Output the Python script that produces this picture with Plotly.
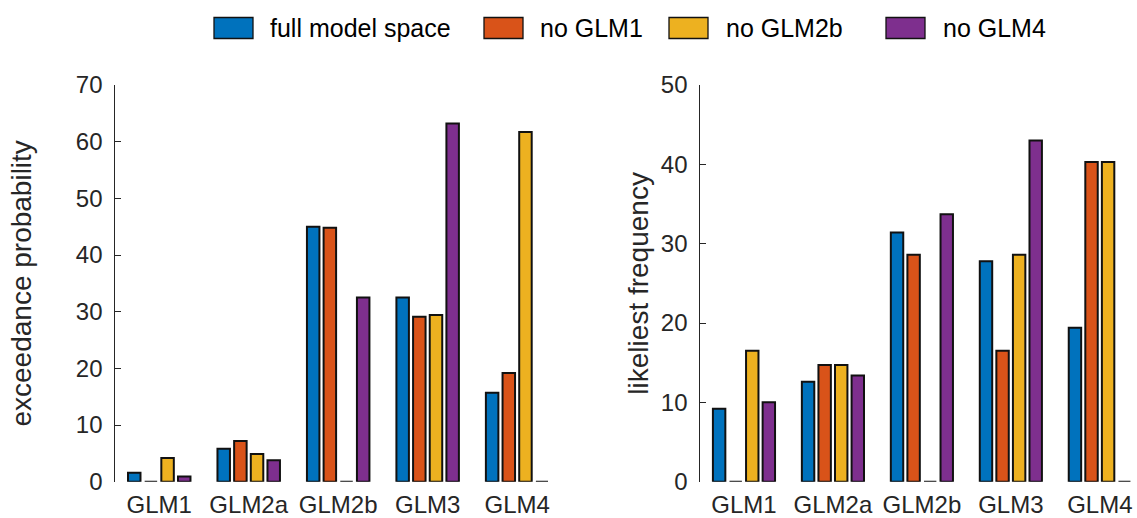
import plotly.graph_objects as go

categories = ["GLM1", "GLM2a", "GLM2b", "GLM3", "GLM4"]
series_names = ["full model space", "no GLM1", "no GLM2b", "no GLM4"]
series_colors = ["#0072BD", "#D95319", "#EDB120", "#7E2F8E"]

# exceedance probability (left panel)
exc_full = [1.6, 5.8, 45.0, 32.5, 15.7]
exc_noGLM1 = [0.0, 7.2, 44.8, 29.1, 19.2]
exc_noGLM2b = [4.2, 4.9, 0.0, 29.4, 61.7]
exc_noGLM4 = [0.9, 3.8, 32.5, 63.2, 0.0]

# likeliest frequency (right panel)
freq_full = [9.2, 12.6, 31.4, 27.8, 19.4]
freq_noGLM1 = [0.0, 14.7, 28.6, 16.5, 40.3]
freq_noGLM2b = [16.5, 14.7, 0.0, 28.6, 40.3]
freq_noGLM4 = [10.0, 13.4, 33.7, 43.0, 0.0]

left_tick_vals = [0, 10, 20, 30, 40, 50, 60, 70]
right_tick_vals = [0, 10, 20, 30, 40, 50]

FONT = "Liberation Sans, Arial, sans-serif"
TXT = "#262626"
W, H = 1137, 518

fig = go.Figure()
left_data = [exc_full, exc_noGLM1, exc_noGLM2b, exc_noGLM4]
right_data = [freq_full, freq_noGLM1, freq_noGLM2b, freq_noGLM4]
for name, col, vals in zip(series_names, series_colors, left_data):
    fig.add_trace(go.Bar(x=categories, y=vals, name=name, marker=dict(color=col, line=dict(color="#111111", width=2)),
                         xaxis="x", yaxis="y", showlegend=False, cliponaxis=False, offsetgroup=name))
for name, col, vals in zip(series_names, series_colors, right_data):
    fig.add_trace(go.Bar(x=categories, y=vals, name=name, marker=dict(color=col, line=dict(color="#111111", width=2)),
                         xaxis="x2", yaxis="y2", showlegend=False, cliponaxis=False, offsetgroup=name))

ydom = [1 - 481.7 / H, 1 - 85 / H]
xr = [-0.5, 4.345]
common_x = dict(type="category", range=xr, showline=False, showgrid=False, zeroline=False, ticks="",
                tickfont=dict(family=FONT, size=24, color=TXT), ticklabelstandoff=6, fixedrange=True,
                automargin=False)
common_y = dict(showline=True, linecolor=TXT, linewidth=1.3, ticks="inside", ticklen=6, tickcolor=TXT,
                tickwidth=1.3, showgrid=False, zeroline=False, tickfont=dict(family=FONT, size=24, color=TXT),
                ticklabelstandoff=6, title_font=dict(family=FONT, size=28, color=TXT), automargin=False)

fig.update_layout(
    width=W, height=H,
    margin=dict(l=0, r=0, t=0, b=0, autoexpand=False),
    paper_bgcolor="white", plot_bgcolor="white",
    barmode="group", bargap=0.255, bargroupgap=0.25,
    xaxis=dict(domain=[114.5 / W, 548 / W], anchor="y", **common_x),
    xaxis2=dict(domain=[699.5 / W, 1130.5 / W], anchor="y2", **common_x),
    yaxis=dict(domain=ydom, anchor="x", range=[0, 70], tickvals=left_tick_vals,
               title=dict(text="exceedance probability", standoff=36), **common_y),
    yaxis2=dict(domain=ydom, anchor="x2", range=[0, 50], tickvals=right_tick_vals,
                title=dict(text="likeliest frequency", standoff=4), **common_y),
)

# legend drawn manually (large swatches like the original)
sw_x = [214, 484, 669, 886]
txt_x = [268, 538, 724, 941]
for sx, tx, name, col in zip(sw_x, txt_x, series_names, series_colors):
    fig.add_shape(type="rect", xref="paper", yref="paper",
                  x0=sx / W, x1=(sx + 39) / W, y0=1 - 38.5 / H, y1=1 - 17.5 / H,
                  fillcolor=col, line=dict(color="#111111", width=1.3))
    fig.add_annotation(xref="paper", yref="paper", x=tx / W, y=1 - 28 / H, text=name, showarrow=False,
                       xanchor="left", yanchor="middle", font=dict(family=FONT, size=25, color="#000000"))

fig.write_html("out.html", config={"responsive": False, "displayModeBar": False},
               post_script="document.body.style.margin='0';document.body.style.overflow='hidden';")
